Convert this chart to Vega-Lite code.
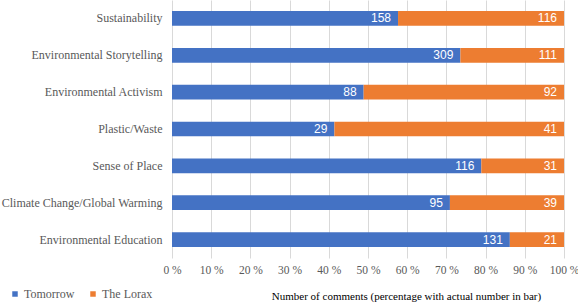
{
  "$schema": "https://vega.github.io/schema/vega-lite/v6.json",
  "width": 392,
  "height": 258,
  "autosize": {"type": "none"},
  "padding": {"left": 172, "top": 0, "right": 14, "bottom": 47},
  "background": "white",
  "config": {
    "view": {"stroke": null},
    "font": "Times New Roman",
    "axis": {"labelFont": "Times New Roman", "titleFont": "Times New Roman", "labelFontSize": 12, "labelColor": "#595959"},
    "legend": {"labelFont": "Times New Roman"},
    "axisX": {
      "values": [0, 0.1, 0.2, 0.3, 0.4, 0.5, 0.6, 0.7, 0.8, 0.9, 1],
      "labelExpr": "round(datum.value*100) + ' %'",
      "labelOverlap": false,
      "labelFlush": false,
      "labelFontSize": 11.5,
      "domain": false,
      "ticks": false,
      "grid": true,
      "gridColor": "#d9d9d9",
      "gridWidth": 1,
      "labelPadding": 6,
      "titleFontSize": 11,
      "titleFontWeight": "normal",
      "titleColor": "#000000",
      "titleX": 234,
      "titleY": 41,
      "titleBaseline": "alphabetic"
    }
  },
  "data": {
    "values": [
      {"category": "Sustainability", "series": "Tomorrow", "sidx": 0, "count": 158},
      {"category": "Sustainability", "series": "The Lorax", "sidx": 1, "count": 116},
      {"category": "Environmental Storytelling", "series": "Tomorrow", "sidx": 0, "count": 309},
      {"category": "Environmental Storytelling", "series": "The Lorax", "sidx": 1, "count": 111},
      {"category": "Environmental Activism", "series": "Tomorrow", "sidx": 0, "count": 88},
      {"category": "Environmental Activism", "series": "The Lorax", "sidx": 1, "count": 92},
      {"category": "Plastic/Waste", "series": "Tomorrow", "sidx": 0, "count": 29},
      {"category": "Plastic/Waste", "series": "The Lorax", "sidx": 1, "count": 41},
      {"category": "Sense of Place", "series": "Tomorrow", "sidx": 0, "count": 116},
      {"category": "Sense of Place", "series": "The Lorax", "sidx": 1, "count": 31},
      {"category": "Climate Change/Global Warming", "series": "Tomorrow", "sidx": 0, "count": 95},
      {"category": "Climate Change/Global Warming", "series": "The Lorax", "sidx": 1, "count": 39},
      {"category": "Environmental Education", "series": "Tomorrow", "sidx": 0, "count": 131},
      {"category": "Environmental Education", "series": "The Lorax", "sidx": 1, "count": 21}
    ]
  },
  "transform": [
    {"stack": "count", "groupby": ["category"], "sort": [{"field": "sidx", "order": "ascending"}], "offset": "normalize", "as": ["x0", "x1"]}
  ],
  "encoding": {
    "y": {
      "field": "category",
      "type": "nominal",
      "sort": ["Sustainability", "Environmental Storytelling", "Environmental Activism", "Plastic/Waste", "Sense of Place", "Climate Change/Global Warming", "Environmental Education"],
      "scale": {"paddingInner": 0.6, "paddingOuter": 0.3},
      "axis": {"title": null, "domain": false, "ticks": false, "labelPadding": 10, "labelLimit": 200}
    }
  },
  "layer": [
    {
      "mark": {"type": "bar"},
      "encoding": {
        "x": {
          "field": "x0",
          "type": "quantitative",
          "scale": {"domain": [0, 1]},
          "title": "Number of comments (percentage with actual number in bar)"
        },
        "x2": {"field": "x1"},
        "color": {
          "field": "series",
          "type": "nominal",
          "sort": ["Tomorrow", "The Lorax"],
          "scale": {"domain": ["Tomorrow", "The Lorax"], "range": ["#4472C4", "#ED7D31"]},
          "legend": {
            "title": null,
            "orient": "none",
            "direction": "horizontal",
            "legendX": -163,
            "legendY": 288,
            "symbolType": "square",
            "symbolSize": 30,
            "symbolStrokeWidth": 0,
            "labelFontSize": 12,
            "labelColor": "#595959",
            "labelOffset": 3,
            "columnPadding": 12
          }
        }
      }
    },
    {
      "mark": {"type": "text", "align": "right", "baseline": "middle", "dx": -7, "color": "white", "font": "Liberation Sans", "fontSize": 12},
      "encoding": {
        "x": {"field": "x1", "type": "quantitative", "title": "Number of comments (percentage with actual number in bar)"},
        "text": {"field": "count", "type": "quantitative"}
      }
    }
  ]
}
